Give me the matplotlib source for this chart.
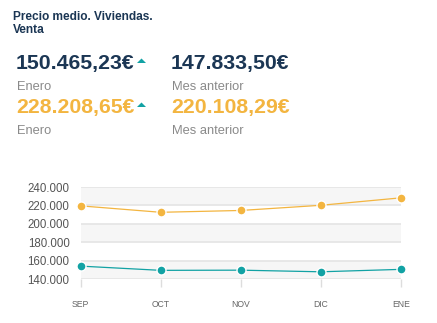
import matplotlib.pyplot as plt
from matplotlib.patches import Polygon
from matplotlib.ticker import FuncFormatter, FixedLocator

plt.rcParams['font.family'] = ['Liberation Sans', 'DejaVu Sans']

meses = ['SEP', 'OCT', 'NOV', 'DIC', 'ENE']
serie_azul = [154000, 149400, 149600, 147833.50, 150465.23]
serie_naranja = [219500, 212500, 214500, 220108.29, 228208.65]
yticks = [140000, 160000, 180000, 200000, 220000, 240000]

titulo = 'Precio medio. Viviendas.\nVenta'
actual_azul, anterior_azul = '150.465,23€', '147.833,50€'
actual_naranja, anterior_naranja = '228.208,65€', '220.108,29€'
lbl_actual, lbl_anterior = 'Enero', 'Mes anterior'

navy = '#1b3654'
naranja = '#f3b540'
teal = '#12a2a4'
gris = '#8a8a8a'

fig = plt.figure(figsize=(4.37, 3.23), dpi=100)
W, H = 437, 323

def px(x, y):
    return x / W, 1 - y / H

def flecha(cx, cy):
    # icono de subida (triangulo achatado)
    pts = [px(cx - 4.5, cy + 2), px(cx + 4.5, cy + 2), px(cx, cy - 2.5)]
    fig.patches.append(Polygon(pts, closed=True, transform=fig.transFigure,
                               facecolor=teal, edgecolor='none'))

# cabecera
fig.text(*px(13, 11), titulo, fontsize=8.6, fontweight='bold', color=navy,
         va='top', ha='left', linespacing=1.15)

fig.text(*px(16, 64), actual_azul, fontsize=15.3, fontweight='bold', color=navy, va='center')
flecha(141.5, 61)
fig.text(*px(171, 64), anterior_azul, fontsize=15.3, fontweight='bold', color=navy, va='center')
fig.text(*px(17, 87), lbl_actual, fontsize=9.3, color=gris, va='center')
fig.text(*px(172, 87), lbl_anterior, fontsize=9.3, color=gris, va='center')

fig.text(*px(16, 108), actual_naranja, fontsize=15.3, fontweight='bold', color=naranja, va='center')
flecha(141.5, 105)
fig.text(*px(171, 108), anterior_naranja, fontsize=15.3, fontweight='bold', color=naranja, va='center')
fig.text(*px(17, 131), lbl_actual, fontsize=9.3, color=gris, va='center')
fig.text(*px(172, 131), lbl_anterior, fontsize=9.3, color=gris, va='center')

# grafico
ax = fig.add_axes([80.7 / W, (H - 279) / H, 320 / W, 92 / H])
x = range(len(meses))

for i in range(len(yticks) - 1):
    if i % 2 == 0:
        ax.axhspan(yticks[i], yticks[i + 1], color='#f6f6f6', zorder=0, lw=0)
for v in yticks:
    ax.axhline(v, color='#e6e6e6', lw=1.3, zorder=1)

ax.plot(x, serie_naranja, color=naranja, lw=0.9, marker='o', ms=6.5,
        mfc=naranja, mec='white', mew=1, zorder=3, clip_on=False)
ax.plot(x, serie_azul, color=teal, lw=0.9, marker='o', ms=6.5,
        mfc=teal, mec='white', mew=1, zorder=3, clip_on=False)

ax.set_xlim(0, len(meses) - 1)
ax.set_ylim(140000, 240000)
ax.yaxis.set_major_locator(FixedLocator(yticks))
ax.yaxis.set_major_formatter(FuncFormatter(lambda v, p: f'{v:,.0f}'.replace(',', '.')))
ax.set_xticks(list(x))
ax.set_xticklabels(meses)
ax.tick_params(axis='y', length=0, pad=8, labelsize=8.3, labelcolor='#555555')
ax.tick_params(axis='x', length=6, width=1, color='#dddddd', pad=9,
               labelsize=6.2, labelcolor='#666666')
for s in ax.spines.values():
    s.set_visible(False)

fig.savefig('out.png', dpi=100)
